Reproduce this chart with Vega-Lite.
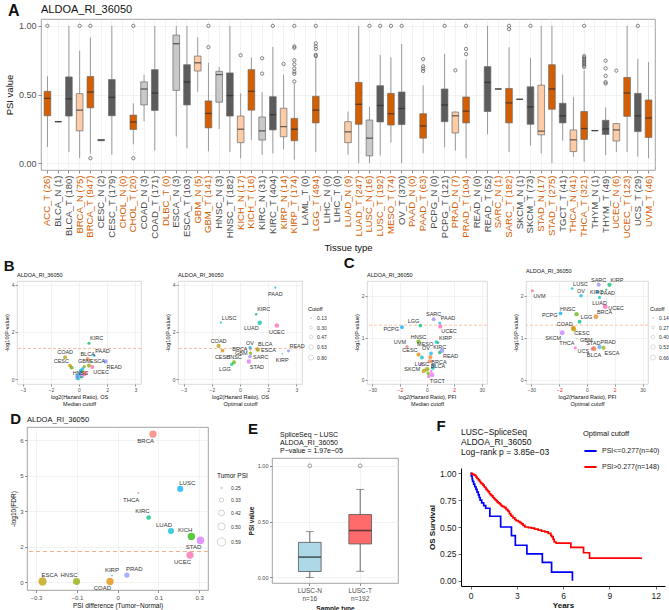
{
"$schema": "https://vega.github.io/schema/vega-lite/v6.json",
"padding": {"left": 3, "top": 2, "right": 0, "bottom": 0},
"background": "white",
"config": {
  "font": "Liberation Sans",
  "view": {"stroke": "#8c8c8c", "strokeWidth": 0.8},
  "axis": {"domain": false, "tickColor": "#444444", "tickSize": 3, "tickWidth": 0.6, "labelColor": "#4d4d4d", "titleColor": "#111111", "titleFontWeight": "normal", "gridColor": "#ebebeb", "gridWidth": 0.6, "labelPadding": 2, "titlePadding": 4},
  "title": {"fontWeight": "normal", "anchor": "start", "color": "#111111"},
  "legend": {"titleFontWeight": "normal", "labelColor": "#333333", "titleColor": "#111111"}
},
"datasets": {
  "boxes": [
    {"label": "ACC_T (26)", "cancer": "ACC", "sample": "T", "lower": 0.118, "q1": 0.345, "median": 0.472, "q3": 0.523, "upper": 0.633},
    {"label": "BLCA_N (1)", "cancer": "BLCA", "sample": "N", "lower": 0.302, "q1": 0.302, "median": 0.302, "q3": 0.302, "upper": 0.302},
    {"label": "BLCA_T (180)", "cancer": "BLCA", "sample": "T", "lower": 0.082, "q1": 0.343, "median": 0.468, "q3": 0.628, "upper": 1.0},
    {"label": "BRCA_N (75)", "cancer": "BRCA", "sample": "N", "lower": 0.036, "q1": 0.235, "median": 0.386, "q3": 0.506, "upper": 0.82},
    {"label": "BRCA_T (947)", "cancer": "BRCA", "sample": "T", "lower": 0.07, "q1": 0.403, "median": 0.518, "q3": 0.631, "upper": 0.916},
    {"label": "CESC_N (2)", "cancer": "CESC", "sample": "N", "lower": 0.163, "q1": 0.163, "median": 0.168, "q3": 0.172, "upper": 0.172},
    {"label": "CESC_T (179)", "cancer": "CESC", "sample": "T", "lower": 0.062, "q1": 0.345, "median": 0.48, "q3": 0.609, "upper": 1.0},
    {"label": "CHOL_T (20)", "cancer": "CHOL", "sample": "T", "lower": 0.137, "q1": 0.245, "median": 0.3, "q3": 0.35, "upper": 0.436},
    {"label": "COAD_N (3)", "cancer": "COAD", "sample": "N", "lower": 0.305, "q1": 0.424, "median": 0.54, "q3": 0.592, "upper": 0.643},
    {"label": "COAD_T (171)", "cancer": "COAD", "sample": "T", "lower": 0.091, "q1": 0.384, "median": 0.511, "q3": 0.681, "upper": 1.0},
    {"label": "ESCA_N (3)", "cancer": "ESCA", "sample": "N", "lower": 0.194, "q1": 0.53, "median": 0.87, "q3": 0.933, "upper": 1.0},
    {"label": "ESCA_T (103)", "cancer": "ESCA", "sample": "T", "lower": 0.108, "q1": 0.424, "median": 0.592, "q3": 0.717, "upper": 1.0},
    {"label": "GBM_N (5)", "cancer": "GBM", "sample": "N", "lower": 0.52, "q1": 0.671, "median": 0.731, "q3": 0.78, "upper": 0.916},
    {"label": "GBM_T (141)", "cancer": "GBM", "sample": "T", "lower": 0.086, "q1": 0.257, "median": 0.362, "q3": 0.453, "upper": 0.731},
    {"label": "HNSC_N (3)", "cancer": "HNSC", "sample": "N", "lower": 0.249, "q1": 0.444, "median": 0.645, "q3": 0.669, "upper": 0.7},
    {"label": "HNSC_T (182)", "cancer": "HNSC", "sample": "T", "lower": 0.082, "q1": 0.343, "median": 0.492, "q3": 0.657, "upper": 1.0},
    {"label": "KICH_N (17)", "cancer": "KICH", "sample": "N", "lower": 0.036, "q1": 0.149, "median": 0.247, "q3": 0.343, "upper": 0.508},
    {"label": "KICH_T (16)", "cancer": "KICH", "sample": "T", "lower": 0.17, "q1": 0.386, "median": 0.523, "q3": 0.681, "upper": 0.77},
    {"label": "KIRC_N (31)", "cancer": "KIRC", "sample": "N", "lower": 0.062, "q1": 0.168, "median": 0.235, "q3": 0.336, "upper": 0.516},
    {"label": "KIRC_T (404)", "cancer": "KIRC", "sample": "T", "lower": 0.07, "q1": 0.242, "median": 0.353, "q3": 0.484, "upper": 0.847},
    {"label": "KIRP_N (14)", "cancer": "KIRP", "sample": "N", "lower": 0.1, "q1": 0.192, "median": 0.266, "q3": 0.4, "upper": 0.645},
    {"label": "KIRP_T (174)", "cancer": "KIRP", "sample": "T", "lower": 0.026, "q1": 0.163, "median": 0.247, "q3": 0.326, "upper": 0.58},
    {"label": "LGG_T (494)", "cancer": "LGG", "sample": "T", "lower": 0.082, "q1": 0.293, "median": 0.386, "q3": 0.487, "upper": 0.772},
    {"label": "LUAD_N (9)", "cancer": "LUAD", "sample": "N", "lower": 0.062, "q1": 0.149, "median": 0.228, "q3": 0.302, "upper": 0.376},
    {"label": "LUAD_T (247)", "cancer": "LUAD", "sample": "T", "lower": 0.0, "q1": 0.283, "median": 0.429, "q3": 0.588, "upper": 1.0},
    {"label": "LUSC_N (16)", "cancer": "LUSC", "sample": "N", "lower": 0.0, "q1": 0.053, "median": 0.182, "q3": 0.314, "upper": 0.41},
    {"label": "LUSC_T (192)", "cancer": "LUSC", "sample": "T", "lower": 0.055, "q1": 0.3, "median": 0.42, "q3": 0.564, "upper": 0.789},
    {"label": "MESO_T (74)", "cancer": "MESO", "sample": "T", "lower": 0.151, "q1": 0.278, "median": 0.36, "q3": 0.508, "upper": 0.77},
    {"label": "OV_T (370)", "cancer": "OV", "sample": "T", "lower": 0.0, "q1": 0.281, "median": 0.398, "q3": 0.518, "upper": 0.868},
    {"label": "PAAD_T (63)", "cancer": "PAAD", "sample": "T", "lower": 0.072, "q1": 0.182, "median": 0.271, "q3": 0.36, "upper": 0.566},
    {"label": "PCPG_T (121)", "cancer": "PCPG", "sample": "T", "lower": 0.115, "q1": 0.302, "median": 0.424, "q3": 0.54, "upper": 0.796},
    {"label": "PRAD_N (7)", "cancer": "PRAD", "sample": "N", "lower": 0.091, "q1": 0.22, "median": 0.345, "q3": 0.372, "upper": 0.376},
    {"label": "PRAD_T (104)", "cancer": "PRAD", "sample": "T", "lower": 0.036, "q1": 0.293, "median": 0.379, "q3": 0.482, "upper": 0.755},
    {"label": "READ_T (52)", "cancer": "READ", "sample": "T", "lower": 0.209, "q1": 0.376, "median": 0.588, "q3": 0.703, "upper": 1.0},
    {"label": "SARC_N (1)", "cancer": "SARC", "sample": "N", "lower": 0.54, "q1": 0.54, "median": 0.54, "q3": 0.54, "upper": 0.54},
    {"label": "SARC_T (182)", "cancer": "SARC", "sample": "T", "lower": 0.082, "q1": 0.293, "median": 0.439, "q3": 0.544, "upper": 0.844},
    {"label": "SKCM_N (1)", "cancer": "SKCM", "sample": "N", "lower": 0.465, "q1": 0.465, "median": 0.465, "q3": 0.465, "upper": 0.465},
    {"label": "SKCM_T (73)", "cancer": "SKCM", "sample": "T", "lower": 0.129, "q1": 0.283, "median": 0.41, "q3": 0.556, "upper": 0.767},
    {"label": "STAD_N (17)", "cancer": "STAD", "sample": "N", "lower": 0.07, "q1": 0.206, "median": 0.233, "q3": 0.568, "upper": 1.0},
    {"label": "STAD_T (275)", "cancer": "STAD", "sample": "T", "lower": 0.0, "q1": 0.393, "median": 0.54, "q3": 0.717, "upper": 1.0},
    {"label": "TGCT_T (41)", "cancer": "TGCT", "sample": "T", "lower": 0.163, "q1": 0.293, "median": 0.345, "q3": 0.436, "upper": 0.645},
    {"label": "THCA_N (41)", "cancer": "THCA", "sample": "N", "lower": 0.046, "q1": 0.084, "median": 0.17, "q3": 0.242, "upper": 0.482},
    {"label": "THCA_T (321)", "cancer": "THCA", "sample": "T", "lower": 0.01, "q1": 0.173, "median": 0.252, "q3": 0.376, "upper": 0.676},
    {"label": "THYM_N (1)", "cancer": "THYM", "sample": "N", "lower": 0.237, "q1": 0.237, "median": 0.237, "q3": 0.237, "upper": 0.237},
    {"label": "THYM_T (49)", "cancer": "THYM", "sample": "T", "lower": 0.058, "q1": 0.209, "median": 0.249, "q3": 0.312, "upper": 0.405},
    {"label": "UCEC_N (6)", "cancer": "UCEC", "sample": "N", "lower": 0.082, "q1": 0.161, "median": 0.242, "q3": 0.288, "upper": 0.29},
    {"label": "UCEC_T (123)", "cancer": "UCEC", "sample": "T", "lower": 0.082, "q1": 0.341, "median": 0.511, "q3": 0.624, "upper": 1.0},
    {"label": "UCS_T (29)", "cancer": "UCS", "sample": "T", "lower": 0.048, "q1": 0.23, "median": 0.345, "q3": 0.508, "upper": 0.76},
    {"label": "UVM_T (46)", "cancer": "UVM", "sample": "T", "lower": 0.036, "q1": 0.187, "median": 0.329, "q3": 0.46, "upper": 0.736}
  ],
  "outA": [
    {"label": "ACC_T (26)", "psi": 1.0},
    {"label": "BRCA_N (75)", "psi": 1.0},
    {"label": "BRCA_T (947)", "psi": 1.0}, {"label": "BRCA_T (947)", "psi": 0.036},
    {"label": "CHOL_T (20)", "psi": 1.0}, {"label": "CHOL_T (20)", "psi": 0.036},
    {"label": "GBM_T (141)", "psi": 1.0}, {"label": "GBM_T (141)", "psi": 0.845},
    {"label": "KICH_N (17)", "psi": 0.786},
    {"label": "KIRC_N (31)", "psi": 0.764}, {"label": "KIRC_N (31)", "psi": 0.652},
    {"label": "KIRC_T (404)", "psi": 1.0},
    {"label": "KIRP_N (14)", "psi": 0.723},
    {"label": "KIRP_T (174)", "psi": 1.0}, {"label": "KIRP_T (174)", "psi": 0.85}, {"label": "KIRP_T (174)", "psi": 0.84}, {"label": "KIRP_T (174)", "psi": 0.75}, {"label": "KIRP_T (174)", "psi": 0.72}, {"label": "KIRP_T (174)", "psi": 0.69}, {"label": "KIRP_T (174)", "psi": 0.665}, {"label": "KIRP_T (174)", "psi": 0.65}, {"label": "KIRP_T (174)", "psi": 0.595},
    {"label": "LGG_T (494)", "psi": 1.0}, {"label": "LGG_T (494)", "psi": 0.873}, {"label": "LGG_T (494)", "psi": 0.851}, {"label": "LGG_T (494)", "psi": 0.832}, {"label": "LGG_T (494)", "psi": 0.789}, {"label": "LGG_T (494)", "psi": 0.78},
    {"label": "LUSC_N (16)", "psi": 1.0},
    {"label": "LUSC_T (192)", "psi": 1.0},
    {"label": "MESO_T (74)", "psi": 1.0},
    {"label": "OV_T (370)", "psi": 1.0},
    {"label": "PAAD_T (63)", "psi": 0.758}, {"label": "PAAD_T (63)", "psi": 0.705}, {"label": "PAAD_T (63)", "psi": 0.688}, {"label": "PAAD_T (63)", "psi": 0.671},
    {"label": "PCPG_T (121)", "psi": 1.0},
    {"label": "PRAD_N (7)", "psi": 0.676},
    {"label": "PRAD_T (104)", "psi": 1.0}, {"label": "PRAD_T (104)", "psi": 0.832}, {"label": "PRAD_T (104)", "psi": 0.794},
    {"label": "SARC_T (182)", "psi": 1.0}, {"label": "SARC_T (182)", "psi": 0.976},
    {"label": "SKCM_T (73)", "psi": 1.0},
    {"label": "THCA_T (321)", "psi": 1.0}, {"label": "THCA_T (321)", "psi": 0.78}, {"label": "THCA_T (321)", "psi": 0.77}, {"label": "THCA_T (321)", "psi": 0.76}, {"label": "THCA_T (321)", "psi": 0.75}, {"label": "THCA_T (321)", "psi": 0.74}, {"label": "THCA_T (321)", "psi": 0.73}, {"label": "THCA_T (321)", "psi": 0.72}, {"label": "THCA_T (321)", "psi": 0.71}, {"label": "THCA_T (321)", "psi": 0.70},
    {"label": "THYM_T (49)", "psi": 0.746}, {"label": "THYM_T (49)", "psi": 0.69}, {"label": "THYM_T (49)", "psi": 0.636}, {"label": "THYM_T (49)", "psi": 0.59}, {"label": "THYM_T (49)", "psi": 0.58},
    {"label": "UCEC_N (6)", "psi": 0.674},
    {"label": "UCS_T (29)", "psi": 1.0}
  ],
  "b1": [
    {"cancer": "KIRC", "hr": 0.53, "p": 1.52, "sz": 0.35},
    {"cancer": "PAAD", "hr": 0.81, "p": 1.0, "sz": 0.27},
    {"cancer": "READ", "hr": 1.41, "p": 0.75, "sz": 0.59},
    {"cancer": "BLCA", "hr": 0.46, "p": 0.86, "sz": 0.47},
    {"cancer": "COAD", "hr": -0.74, "p": 0.93, "sz": 0.51},
    {"cancer": "CESC", "hr": -0.48, "p": 0.58, "sz": 0.48},
    {"cancer": "ESCA", "hr": 0.53, "p": 0.58, "sz": 0.59},
    {"cancer": "GBM", "hr": 0.28, "p": 0.54, "sz": 0.36},
    {"cancer": "HNSC", "hr": -0.39, "p": 0.49, "sz": 0.49},
    {"cancer": "UCEC", "hr": 0.71, "p": 0.52, "sz": 0.51},
    {"cancer": "LUAD", "hr": 0.1, "p": 0.38, "sz": 0.43},
    {"cancer": "OV", "hr": 0.14, "p": 0.33, "sz": 0.4},
    {"cancer": "LGG", "hr": 0.05, "p": 0.22, "sz": 0.39},
    {"cancer": "SKCM", "hr": -0.12, "p": 0.06, "sz": 0.41},
    {"cancer": "SARC", "hr": 0.04, "p": 0.12, "sz": 0.44},
    {"cancer": "STAD", "hr": 0.18, "p": 0.14, "sz": 0.54},
    {"cancer": "THCA", "hr": 0.4, "p": 0.25, "sz": 0.25},
    {"cancer": "LUSC", "hr": -0.05, "p": 0.02, "sz": 0.42},
    {"cancer": "KIRP", "hr": 0.12, "p": 0.08, "sz": 0.25},
    {"cancer": "BRCA", "hr": 0.25, "p": 0.3, "sz": 0.52},
    {"cancer": "PRAD", "hr": 0.05, "p": 0.28, "sz": 0.38},
    {"cancer": "MESO", "hr": 0.2, "p": 0.45, "sz": 0.36},
    {"cancer": "UVM", "hr": 0.32, "p": 0.2, "sz": 0.33},
    {"cancer": "PCPG", "hr": -0.1, "p": 0.15, "sz": 0.42}
  ],
  "b2": [
    {"cancer": "PAAD", "hr": 1.88, "p": 3.87, "sz": 0.2},
    {"cancer": "KIRC", "hr": 0.86, "p": 2.75, "sz": 0.25},
    {"cancer": "LUSC", "hr": -1.02, "p": 2.39, "sz": 0.2},
    {"cancer": "LUAD", "hr": 1.05, "p": 2.39, "sz": 0.63},
    {"cancer": "UCEC", "hr": 1.96, "p": 2.27, "sz": 0.63},
    {"cancer": "COAD", "hr": -1.14, "p": 1.41, "sz": 0.55},
    {"cancer": "CESC", "hr": -0.93, "p": 1.21, "sz": 0.47},
    {"cancer": "BRCA", "hr": 0.56, "p": 1.28, "sz": 0.3},
    {"cancer": "OV", "hr": 0.53, "p": 1.34, "sz": 0.35},
    {"cancer": "BLCA", "hr": 0.91, "p": 1.28, "sz": 0.45},
    {"cancer": "READ", "hr": 2.58, "p": 1.2, "sz": 0.4},
    {"cancer": "ESCA", "hr": 0.96, "p": 1.24, "sz": 0.47},
    {"cancer": "KIRP", "hr": 2.25, "p": 1.08, "sz": 0.13},
    {"cancer": "GBM", "hr": 0.56, "p": 1.1, "sz": 0.4},
    {"cancer": "SARC", "hr": 0.53, "p": 0.96, "sz": 0.45},
    {"cancer": "HNSC", "hr": -0.32, "p": 0.72, "sz": 0.5},
    {"cancer": "LGG", "hr": -0.44, "p": 0.63, "sz": 0.38},
    {"cancer": "STAD", "hr": 0.47, "p": 0.75, "sz": 0.6}
  ],
  "c1": [
    {"cancer": "PCPG", "hr": -1.6, "p": 1.25, "sz": 0.42},
    {"cancer": "LGG", "hr": -0.143, "p": 1.29, "sz": 0.39},
    {"cancer": "SARC", "hr": 0.143, "p": 1.44, "sz": 0.44},
    {"cancer": "PAAD", "hr": 0.38, "p": 1.35, "sz": 0.27},
    {"cancer": "UCEC", "hr": 0.41, "p": 1.27, "sz": 0.51},
    {"cancer": "HNSC", "hr": -0.2, "p": 0.91, "sz": 0.49},
    {"cancer": "UVM", "hr": -0.93, "p": 0.79, "sz": 0.33},
    {"cancer": "MESO", "hr": 0.23, "p": 0.9, "sz": 0.36},
    {"cancer": "KIRP", "hr": 0.3, "p": 0.88, "sz": 0.25},
    {"cancer": "CESC", "hr": -0.2, "p": 0.6, "sz": 0.48},
    {"cancer": "OV", "hr": 0.075, "p": 0.63, "sz": 0.4},
    {"cancer": "KIRC", "hr": 0.38, "p": 0.65, "sz": 0.35},
    {"cancer": "READ", "hr": 0.51, "p": 0.69, "sz": 0.59},
    {"cancer": "LUSC", "hr": -0.1, "p": 0.53, "sz": 0.42},
    {"cancer": "BRCA", "hr": 0.06, "p": 0.54, "sz": 0.52},
    {"cancer": "SKCM", "hr": -0.12, "p": 0.37, "sz": 0.41},
    {"cancer": "BLCA", "hr": 0.05, "p": 0.44, "sz": 0.47},
    {"cancer": "TGCT", "hr": 0.03, "p": 0.08, "sz": 0.35},
    {"cancer": "COAD", "hr": -0.06, "p": 0.21, "sz": 0.51},
    {"cancer": "GBM", "hr": 0.02, "p": 0.15, "sz": 0.36},
    {"cancer": "LUAD", "hr": 0.12, "p": 0.28, "sz": 0.43},
    {"cancer": "STAD", "hr": 0.1, "p": 0.12, "sz": 0.54},
    {"cancer": "THCA", "hr": 0.08, "p": 0.2, "sz": 0.25},
    {"cancer": "PRAD", "hr": 0.15, "p": 0.34, "sz": 0.38},
    {"cancer": "ESCA", "hr": 0.0, "p": 0.25, "sz": 0.59}
  ],
  "c2": [
    {"cancer": "UVM", "hr": -27.3, "p": 2.12, "sz": 0.3},
    {"cancer": "LUSC", "hr": -0.49, "p": 2.17, "sz": 0.25},
    {"cancer": "SARC", "hr": 0.32, "p": 2.26, "sz": 0.45},
    {"cancer": "KIRC", "hr": 0.82, "p": 2.14, "sz": 0.2},
    {"cancer": "KIRP", "hr": 1.17, "p": 2.26, "sz": 0.5},
    {"cancer": "OV", "hr": -0.12, "p": 2.0, "sz": 0.35},
    {"cancer": "PAAD", "hr": 0.27, "p": 2.09, "sz": 0.35},
    {"cancer": "LUAD", "hr": 0.36, "p": 1.96, "sz": 0.3},
    {"cancer": "UCEC", "hr": 0.73, "p": 1.74, "sz": 0.62},
    {"cancer": "HNSC", "hr": -0.27, "p": 1.56, "sz": 0.5},
    {"cancer": "BRCA", "hr": 0.21, "p": 1.5, "sz": 0.62},
    {"cancer": "PCPG", "hr": -1.78, "p": 1.58, "sz": 0.4},
    {"cancer": "LGG", "hr": -0.16, "p": 1.38, "sz": 0.45},
    {"cancer": "COAD", "hr": -0.4, "p": 1.2, "sz": 0.62},
    {"cancer": "SKCM", "hr": -1.5, "p": 1.12, "sz": 0.62},
    {"cancer": "CESC", "hr": -0.42, "p": 1.24, "sz": 0.55},
    {"cancer": "GBM", "hr": -0.25, "p": 0.98, "sz": 0.14},
    {"cancer": "THCA", "hr": -0.32, "p": 0.76, "sz": 0.3},
    {"cancer": "STAD", "hr": 0.13, "p": 0.75, "sz": 0.4},
    {"cancer": "PRAD", "hr": 0.36, "p": 0.78, "sz": 0.5},
    {"cancer": "UCS", "hr": 0.1, "p": 0.73, "sz": 0.35},
    {"cancer": "BLCA", "hr": 0.15, "p": 0.74, "sz": 0.62},
    {"cancer": "ESCA", "hr": 0.6, "p": 0.76, "sz": 0.45}
  ],
  "d": [
    {"cancer": "BRCA", "diff": 0.13, "fdr": 6.27, "tpsi": 0.52},
    {"cancer": "LUSC", "diff": 0.23, "fdr": 3.95, "tpsi": 0.43},
    {"cancer": "THCA", "diff": 0.076, "fdr": 3.78, "tpsi": 0.25},
    {"cancer": "KIRC", "diff": 0.114, "fdr": 2.74, "tpsi": 0.35},
    {"cancer": "LUAD", "diff": 0.196, "fdr": 2.17, "tpsi": 0.43},
    {"cancer": "KICH", "diff": 0.271, "fdr": 1.94, "tpsi": 0.52},
    {"cancer": "STAD", "diff": 0.304, "fdr": 1.77, "tpsi": 0.54},
    {"cancer": "UCEC", "diff": 0.266, "fdr": 1.15, "tpsi": 0.51},
    {"cancer": "PRAD", "diff": 0.034, "fdr": 0.3, "tpsi": 0.38},
    {"cancer": "KIRP", "diff": -0.021, "fdr": 0.28, "tpsi": 0.25},
    {"cancer": "COAD", "diff": -0.028, "fdr": 0.03, "tpsi": 0.51},
    {"cancer": "HNSC", "diff": -0.151, "fdr": 0.03, "tpsi": 0.49},
    {"cancer": "ESCA", "diff": -0.276, "fdr": 0.03, "tpsi": 0.59}
  ],
  "e": [
    {"label": "LUSC-N|n=16", "grp": "N", "lower": 0.0, "q1": 0.053, "median": 0.182, "q3": 0.314, "upper": 0.41},
    {"label": "LUSC-T|n=192", "grp": "T", "lower": 0.055, "q1": 0.3, "median": 0.42, "q3": 0.564, "upper": 0.789}
  ],
  "eout": [
    {"label": "LUSC-N|n=16", "psi": 1.0},
    {"label": "LUSC-T|n=192", "psi": 1.0}
  ],
  "f": [
    {"group": "PSI<=0.277(n=40)", "time": 0, "surv": 1.0},
    {"group": "PSI<=0.277(n=40)", "time": 0.05, "surv": 0.975},
    {"group": "PSI<=0.277(n=40)", "time": 0.1, "surv": 0.95},
    {"group": "PSI<=0.277(n=40)", "time": 0.13, "surv": 0.925},
    {"group": "PSI<=0.277(n=40)", "time": 0.2, "surv": 0.9},
    {"group": "PSI<=0.277(n=40)", "time": 0.27, "surv": 0.875},
    {"group": "PSI<=0.277(n=40)", "time": 0.35, "surv": 0.85},
    {"group": "PSI<=0.277(n=40)", "time": 0.42, "surv": 0.825},
    {"group": "PSI<=0.277(n=40)", "time": 0.5, "surv": 0.8},
    {"group": "PSI<=0.277(n=40)", "time": 0.56, "surv": 0.775},
    {"group": "PSI<=0.277(n=40)", "time": 0.62, "surv": 0.75},
    {"group": "PSI<=0.277(n=40)", "time": 0.72, "surv": 0.725},
    {"group": "PSI<=0.277(n=40)", "time": 0.85, "surv": 0.7},
    {"group": "PSI<=0.277(n=40)", "time": 0.98, "surv": 0.675},
    {"group": "PSI<=0.277(n=40)", "time": 1.25, "surv": 0.6},
    {"group": "PSI<=0.277(n=40)", "time": 1.95, "surv": 0.5},
    {"group": "PSI<=0.277(n=40)", "time": 2.65, "surv": 0.42},
    {"group": "PSI<=0.277(n=40)", "time": 2.9, "surv": 0.33},
    {"group": "PSI<=0.277(n=40)", "time": 3.65, "surv": 0.25},
    {"group": "PSI<=0.277(n=40)", "time": 4.65, "surv": 0.17},
    {"group": "PSI<=0.277(n=40)", "time": 5.25, "surv": 0.08},
    {"group": "PSI<=0.277(n=40)", "time": 6.6, "surv": 0.0},
    {"group": "PSI>0.277(n=148)", "time": 0, "surv": 1.0},
    {"group": "PSI>0.277(n=148)", "time": 0.1, "surv": 0.993},
    {"group": "PSI>0.277(n=148)", "time": 0.2, "surv": 0.986},
    {"group": "PSI>0.277(n=148)", "time": 0.28, "surv": 0.98},
    {"group": "PSI>0.277(n=148)", "time": 0.35, "surv": 0.966},
    {"group": "PSI>0.277(n=148)", "time": 0.42, "surv": 0.952},
    {"group": "PSI>0.277(n=148)", "time": 0.5, "surv": 0.94},
    {"group": "PSI>0.277(n=148)", "time": 0.58, "surv": 0.926},
    {"group": "PSI>0.277(n=148)", "time": 0.65, "surv": 0.912},
    {"group": "PSI>0.277(n=148)", "time": 0.71, "surv": 0.905},
    {"group": "PSI>0.277(n=148)", "time": 0.8, "surv": 0.89},
    {"group": "PSI>0.277(n=148)", "time": 0.88, "surv": 0.875},
    {"group": "PSI>0.277(n=148)", "time": 0.93, "surv": 0.868},
    {"group": "PSI>0.277(n=148)", "time": 1.0, "surv": 0.85},
    {"group": "PSI>0.277(n=148)", "time": 1.08, "surv": 0.84},
    {"group": "PSI>0.277(n=148)", "time": 1.14, "surv": 0.83},
    {"group": "PSI>0.277(n=148)", "time": 1.22, "surv": 0.81},
    {"group": "PSI>0.277(n=148)", "time": 1.3, "surv": 0.8},
    {"group": "PSI>0.277(n=148)", "time": 1.36, "surv": 0.79},
    {"group": "PSI>0.277(n=148)", "time": 1.45, "surv": 0.775},
    {"group": "PSI>0.277(n=148)", "time": 1.52, "surv": 0.765},
    {"group": "PSI>0.277(n=148)", "time": 1.58, "surv": 0.755},
    {"group": "PSI>0.277(n=148)", "time": 1.65, "surv": 0.745},
    {"group": "PSI>0.277(n=148)", "time": 1.72, "surv": 0.735},
    {"group": "PSI>0.277(n=148)", "time": 1.79, "surv": 0.725},
    {"group": "PSI>0.277(n=148)", "time": 1.88, "surv": 0.715},
    {"group": "PSI>0.277(n=148)", "time": 1.95, "surv": 0.705},
    {"group": "PSI>0.277(n=148)", "time": 2.01, "surv": 0.695},
    {"group": "PSI>0.277(n=148)", "time": 2.1, "surv": 0.69},
    {"group": "PSI>0.277(n=148)", "time": 2.2, "surv": 0.68},
    {"group": "PSI>0.277(n=148)", "time": 2.3, "surv": 0.665},
    {"group": "PSI>0.277(n=148)", "time": 2.4, "surv": 0.655},
    {"group": "PSI>0.277(n=148)", "time": 2.44, "surv": 0.645},
    {"group": "PSI>0.277(n=148)", "time": 2.52, "surv": 0.625},
    {"group": "PSI>0.277(n=148)", "time": 2.6, "surv": 0.61},
    {"group": "PSI>0.277(n=148)", "time": 2.66, "surv": 0.6},
    {"group": "PSI>0.277(n=148)", "time": 2.75, "surv": 0.585},
    {"group": "PSI>0.277(n=148)", "time": 2.87, "surv": 0.57},
    {"group": "PSI>0.277(n=148)", "time": 2.95, "surv": 0.56},
    {"group": "PSI>0.277(n=148)", "time": 3.09, "surv": 0.55},
    {"group": "PSI>0.277(n=148)", "time": 3.2, "surv": 0.54},
    {"group": "PSI>0.277(n=148)", "time": 3.3, "surv": 0.53},
    {"group": "PSI>0.277(n=148)", "time": 3.4, "surv": 0.515},
    {"group": "PSI>0.277(n=148)", "time": 3.52, "surv": 0.5},
    {"group": "PSI>0.277(n=148)", "time": 3.75, "surv": 0.495},
    {"group": "PSI>0.277(n=148)", "time": 3.95, "surv": 0.49},
    {"group": "PSI>0.277(n=148)", "time": 4.15, "surv": 0.48},
    {"group": "PSI>0.277(n=148)", "time": 4.38, "surv": 0.47},
    {"group": "PSI>0.277(n=148)", "time": 4.6, "surv": 0.462},
    {"group": "PSI>0.277(n=148)", "time": 4.82, "surv": 0.455},
    {"group": "PSI>0.277(n=148)", "time": 5.03, "surv": 0.44},
    {"group": "PSI>0.277(n=148)", "time": 5.2, "surv": 0.425},
    {"group": "PSI>0.277(n=148)", "time": 5.25, "surv": 0.41},
    {"group": "PSI>0.277(n=148)", "time": 5.35, "surv": 0.385},
    {"group": "PSI>0.277(n=148)", "time": 5.42, "surv": 0.36},
    {"group": "PSI>0.277(n=148)", "time": 5.55, "surv": 0.35},
    {"group": "PSI>0.277(n=148)", "time": 6.5, "surv": 0.31},
    {"group": "PSI>0.277(n=148)", "time": 7.32, "surv": 0.26},
    {"group": "PSI>0.277(n=148)", "time": 7.71, "surv": 0.21},
    {"group": "PSI>0.277(n=148)", "time": 11.1, "surv": 0.21}
  ]
},
"resolve": {"scale": {"color": "independent", "size": "independent", "x": "independent", "y": "independent"}, "legend": {"color": "independent", "size": "independent"}},
"columns": 1,
"spacing": 2,
"align": "none",
"concat": [
  {
    "spacing": -14,
    "align": "none",
    "concat": [
      {"width": 1, "height": 1, "view": {"stroke": null}, "data": {"values": [{}]}, "mark": {"type": "rule", "opacity": 0}, "encoding": {}},
      {
        "title": {"text": "A", "fontSize": 16, "fontWeight": "bold", "anchor": "start", "frame": "bounds", "offset": -15, "dx": 4},
        "columns": 1,
        "align": "none",
        "concat": [
          {
            "width": 614, "height": 151,
            "title": {"text": "ALDOA_RI_36050", "fontSize": 11, "offset": 4, "frame": "group"},
            "layer": [
              {
                "data": {"name": "boxes"},
                "transform": [{"calculate": "(test(regexp('^(ACC|BRCA|CHOL|DLBC|GBM|KICH|KIRP|LGG|LUAD|MESO|PAAD|PRAD|SARC|STAD|THCA|UCEC|UVM)$'), datum.cancer) ? 'O' : 'G') + datum.sample", "as": "ckey"}],
                "layer": [
                  {
                    "mark": {"type": "rule", "color": "#8f8f8f", "strokeWidth": 0.9},
                    "encoding": {
                      "x": {"field": "label", "type": "nominal",
                        "scale": {"domain": ["ACC_T (26)","BLCA_N (1)","BLCA_T (180)","BRCA_N (75)","BRCA_T (947)","CESC_N (2)","CESC_T (179)","CHOL_N (0)","CHOL_T (20)","COAD_N (3)","COAD_T (171)","DLBC_T (0)","ESCA_N (3)","ESCA_T (103)","GBM_N (5)","GBM_T (141)","HNSC_N (3)","HNSC_T (182)","KICH_N (17)","KICH_T (16)","KIRC_N (31)","KIRC_T (404)","KIRP_N (14)","KIRP_T (174)","LAML_T (0)","LGG_T (494)","LIHC_N (0)","LIHC_T (0)","LUAD_N (9)","LUAD_T (247)","LUSC_N (16)","LUSC_T (192)","MESO_T (74)","OV_T (370)","PAAD_N (0)","PAAD_T (63)","PCPG_N (0)","PCPG_T (121)","PRAD_N (7)","PRAD_T (104)","READ_N (0)","READ_T (52)","SARC_N (1)","SARC_T (182)","SKCM_N (1)","SKCM_T (73)","STAD_N (17)","STAD_T (275)","TGCT_T (41)","THCA_N (41)","THCA_T (321)","THYM_N (1)","THYM_T (49)","UCEC_N (6)","UCEC_T (123)","UCS_T (29)","UVM_T (46)"], "paddingInner": 0, "paddingOuter": 0.1},
                        "axis": {"title": "Tissue type", "titleFontSize": 9.5, "labelAngle": -90, "labelFontSize": 9.5, "bandPosition": 0.5, "grid": true, "labelPadding": 2, "titlePadding": 4,
                          "labelColor": {"condition": {"test": "test(regexp('^(ACC|BRCA|CHOL|DLBC|GBM|KICH|KIRP|LGG|LUAD|LUSC|MESO|PAAD|PRAD|SARC|STAD|THCA|UCEC|UVM)_'), datum.value)", "value": "#D55E00"}, "value": "#4d4d4d"}}},
                      "y": {"field": "lower", "type": "quantitative", "scale": {"domain": [-0.05, 1.05], "nice": false, "zero": false},
                        "axis": {"values": [0, 0.25, 0.5, 0.75, 1], "format": ".2f", "title": "PSI value", "labelFontSize": 9, "titleFontSize": 9.5, "grid": true}},
                      "y2": {"field": "upper"}
                    }
                  },
                  {
                    "mark": {"type": "bar", "width": {"band": 0.62}, "stroke": "#6b6b6b", "strokeWidth": 0.7},
                    "encoding": {
                      "x": {"field": "label", "type": "nominal"},
                      "y": {"field": "q1", "type": "quantitative"},
                      "y2": {"field": "q3"},
                      "color": {"field": "ckey", "type": "nominal", "scale": {"domain": ["ON", "OT", "GN", "GT"], "range": ["#FDCBA5", "#D55E00", "#C9C9C9", "#5C5C5C"]}, "legend": null}
                    }
                  },
                  {
                    "mark": {"type": "tick", "size": 6.6, "thickness": 1.3, "color": "#2b2b2b"},
                    "encoding": {
                      "x": {"field": "label", "type": "nominal"},
                      "y": {"field": "median", "type": "quantitative"}
                    }
                  }
                ]
              },
              {
                "data": {"name": "outA"},
                "mark": {"type": "point", "shape": "circle", "filled": false, "size": 11, "color": "#555555", "strokeWidth": 0.7, "opacity": 1},
                "encoding": {
                  "x": {"field": "label", "type": "nominal"},
                  "y": {"field": "psi", "type": "quantitative"}
                }
              }
            ]
          }
        ]
      }
    ]
  },
  {
    "columns": 1,
    "spacing": 4,
    "align": "none",
    "resolve": {"scale": {"color": "independent", "size": "independent", "x": "independent", "y": "independent"}, "legend": {"color": "independent", "size": "independent"}},
    "concat": [
  {
    "align": "none",
    "spacing": 15,
    "resolve": {"scale": {"color": "independent", "size": "independent", "x": "independent", "y": "independent"}, "legend": {"color": "independent", "size": "independent"}},
    "concat": [
      {
        "title": {"text": "B", "fontSize": 15, "fontWeight": "bold", "anchor": "start", "frame": "bounds", "offset": -2, "dx": 0},
        "spacing": 22,
        "align": "none",
        "resolve": {"scale": {"color": "independent", "size": "independent", "x": "independent", "y": "independent"}, "legend": {"color": "independent", "size": "independent"}},
        "concat": [
          {
            "width": 124, "height": 103,
            "view": {"stroke": "#cfcfcf"},
            "title": {"text": "ALDOA_RI_36050", "fontSize": 5.5, "offset": 3, "frame": "group"},
            "data": {"name": "b1"},
            "layer": [
              {"data": {"values": [{"t": 1.3}]}, "mark": {"type": "rule", "color": "#F4A582", "strokeDash": [3, 2], "strokeWidth": 0.7}, "encoding": {"y": {"field": "t", "type": "quantitative"}}},
              {
                "encoding": {
                  "x": {"field": "hr", "type": "quantitative", "scale": {"domain": [-3.3, 3.3], "nice": false, "zero": false}, "axis": {"values": [-3, -1.5, 0, 1.5, 3], "format": "~g", "title": ["log2(Hazard Ratio), OS", "Median cutoff"], "labelFontSize": 5, "titleFontSize": 5.5, "tickSize": 2, "labelPadding": 1, "titlePadding": 2}},
                  "y": {"field": "p", "type": "quantitative", "scale": {"domain": [-0.2, 4.15], "nice": false, "zero": false}, "axis": {"values": [0, 1, 2, 3, 4], "format": "~g", "title": "-log10(P-value)", "labelFontSize": 5, "titleFontSize": 5.5, "tickSize": 2, "labelPadding": 1, "titlePadding": 2}}
                },
                "layer": [
                  {"mark": {"type": "point", "filled": true, "opacity": 0.75}, "encoding": {
                    "color": {"field": "cancer", "type": "nominal", "legend": null, "scale": {"domain": ["ACC","BLCA","BRCA","CESC","CHOL","COAD","DLBC","ESCA","GBM","HNSC","KICH","KIRC","KIRP","LGG","LIHC","LUAD","LUSC","MESO","OV","PAAD","PCPG","PRAD","READ","SARC","SKCM","STAD","TGCT","THCA","THYM","UCEC","UCS","UVM"], "range": ["#F8766D","#EF7F4A","#E88526","#DA8E00","#CD9600","#BB9D00","#AAA300","#93AA00","#7CAE00","#5EB300","#39B600","#00BC51","#00BE67","#00C086","#00C0A0","#00C1B0","#00BFC4","#00BCD8","#00B4EF","#00AEFA","#00A9FF","#58A0FF","#8794FF","#A08AFF","#C77CFF","#DF70F8","#F265E8","#FB61D7","#FF61CC","#FF63B6","#FF6A98","#FA7476"]}},
                    "size": {"field": "sz", "type": "quantitative", "scale": {"domain": [0.13, 0.8], "range": [2, 26]}, "legend": null}}},
                  {"transform": [{"filter": {"field": "cancer", "oneOf": ["KIRC", "PAAD", "ESCA"]}}], "mark": {"type": "text", "fontSize": 5.5, "align": "left", "dx": 1, "dy": -5, "color": "#333333"}, "encoding": {"text": {"field": "cancer"}}},
                  {"transform": [{"filter": {"field": "cancer", "oneOf": ["BLCA", "COAD", "GBM"]}}], "mark": {"type": "text", "fontSize": 5.5, "align": "center", "dy": -5, "color": "#333333"}, "encoding": {"text": {"field": "cancer"}}},
                  {"transform": [{"filter": {"field": "cancer", "oneOf": ["CESC"]}}], "mark": {"type": "text", "fontSize": 5.5, "align": "right", "dx": -1, "dy": -5, "color": "#333333"}, "encoding": {"text": {"field": "cancer"}}},
                  {"transform": [{"filter": {"field": "cancer", "oneOf": ["READ", "UCEC", "HNSC"]}}], "mark": {"type": "text", "fontSize": 5.5, "align": "left", "dx": 1, "dy": 5, "color": "#333333"}, "encoding": {"text": {"field": "cancer"}}}
                ]
              }
            ]
          },
          {
            "width": 124, "height": 103,
            "view": {"stroke": "#cfcfcf"},
            "title": {"text": "ALDOA_RI_36050", "fontSize": 5.5, "offset": 3, "frame": "group"},
            "data": {"name": "b2"},
            "layer": [
              {"data": {"values": [{"t": 1.3}]}, "mark": {"type": "rule", "color": "#F4A582", "strokeDash": [3, 2], "strokeWidth": 0.7}, "encoding": {"y": {"field": "t", "type": "quantitative"}}},
              {
                "encoding": {
                  "x": {"field": "hr", "type": "quantitative", "scale": {"domain": [-3.3, 3.3], "nice": false, "zero": false}, "axis": {"values": [-3, -1.5, 0, 1.5, 3], "format": "~g", "title": ["log2(Hazard Ratio), OS", "Optimal cutoff"], "labelFontSize": 5, "titleFontSize": 5.5, "tickSize": 2, "labelPadding": 1, "titlePadding": 2}},
                  "y": {"field": "p", "type": "quantitative", "scale": {"domain": [-0.2, 4.15], "nice": false, "zero": false}, "axis": {"values": [0, 1, 2, 3, 4], "format": "~g", "title": "-log10(P-value)", "labelFontSize": 5, "titleFontSize": 5.5, "tickSize": 2, "labelPadding": 1, "titlePadding": 2}}
                },
                "layer": [
                  {"mark": {"type": "point", "filled": true, "opacity": 0.75}, "encoding": {
                    "color": {"field": "cancer", "type": "nominal", "legend": null, "scale": {"domain": ["ACC","BLCA","BRCA","CESC","CHOL","COAD","DLBC","ESCA","GBM","HNSC","KICH","KIRC","KIRP","LGG","LIHC","LUAD","LUSC","MESO","OV","PAAD","PCPG","PRAD","READ","SARC","SKCM","STAD","TGCT","THCA","THYM","UCEC","UCS","UVM"], "range": ["#F8766D","#EF7F4A","#E88526","#DA8E00","#CD9600","#BB9D00","#AAA300","#93AA00","#7CAE00","#5EB300","#39B600","#00BC51","#00BE67","#00C086","#00C0A0","#00C1B0","#00BFC4","#00BCD8","#00B4EF","#00AEFA","#00A9FF","#58A0FF","#8794FF","#A08AFF","#C77CFF","#DF70F8","#F265E8","#FB61D7","#FF61CC","#FF63B6","#FF6A98","#FA7476"]}},
                    "size": {"field": "sz", "type": "quantitative", "scale": {"domain": [0.13, 0.8], "range": [2, 26]},
                      "legend": {"title": "Cutoff", "values": [0.13, 0.3, 0.47, 0.63, 0.8], "format": ".2f", "orient": "none", "legendX": 130, "legendY": 26, "titleFontSize": 5.5, "labelFontSize": 5, "symbolFillColor": "#ffffff", "symbolStrokeColor": "#b5b5b5", "symbolStrokeWidth": 0.6, "rowPadding": 2.5, "titlePadding": 3, "labelOffset": 3}}}},
                  {"transform": [{"filter": {"field": "cancer", "oneOf": ["PAAD", "UCEC", "CESC", "KIRP"]}}], "mark": {"type": "text", "fontSize": 5.5, "align": "center", "dy": 6, "color": "#333333"}, "encoding": {"text": {"field": "cancer"}}},
                  {"transform": [{"filter": {"field": "cancer", "oneOf": ["KIRC", "LUSC", "BLCA", "READ"]}}], "mark": {"type": "text", "fontSize": 5.5, "align": "left", "dx": 1, "dy": -5, "color": "#333333"}, "encoding": {"text": {"field": "cancer"}}},
                  {"transform": [{"filter": {"field": "cancer", "oneOf": ["LUAD", "LGG"]}}], "mark": {"type": "text", "fontSize": 5.5, "align": "right", "dx": -1, "dy": 5, "color": "#333333"}, "encoding": {"text": {"field": "cancer"}}},
                  {"transform": [{"filter": {"field": "cancer", "oneOf": ["COAD", "OV", "HNSC"]}}], "mark": {"type": "text", "fontSize": 5.5, "align": "center", "dy": -5, "color": "#333333"}, "encoding": {"text": {"field": "cancer"}}},
                  {"transform": [{"filter": {"field": "cancer", "oneOf": ["BRCA", "GBM"]}}], "mark": {"type": "text", "fontSize": 5.5, "align": "right", "dx": -3, "color": "#333333"}, "encoding": {"text": {"field": "cancer"}}},
                  {"transform": [{"filter": {"field": "cancer", "oneOf": ["ESCA", "SARC"]}}], "mark": {"type": "text", "fontSize": 5.5, "align": "left", "dx": 3, "color": "#333333"}, "encoding": {"text": {"field": "cancer"}}},
                  {"transform": [{"filter": {"field": "cancer", "oneOf": ["STAD"]}}], "mark": {"type": "text", "fontSize": 5.5, "align": "left", "dx": 1, "dy": 5, "color": "#333333"}, "encoding": {"text": {"field": "cancer"}}}
                ]
              }
            ]
          }
        ]
      },
      {
        "title": {"text": "C", "fontSize": 15, "fontWeight": "bold", "anchor": "start", "frame": "bounds", "offset": -2, "dx": -10},
        "spacing": 24,
        "align": "none",
        "resolve": {"scale": {"color": "independent", "size": "independent", "x": "independent", "y": "independent"}, "legend": {"color": "independent", "size": "independent"}},
        "concat": [
          {
            "width": 120, "height": 103,
            "view": {"stroke": "#cfcfcf"},
            "title": {"text": "ALDOA_RI_36050", "fontSize": 5.5, "offset": 3, "frame": "group"},
            "data": {"name": "c1"},
            "layer": [
              {"data": {"values": [{"t": 1.3}]}, "mark": {"type": "rule", "color": "#F4A582", "strokeDash": [3, 2], "strokeWidth": 0.7}, "encoding": {"y": {"field": "t", "type": "quantitative"}}},
              {
                "encoding": {
                  "x": {"field": "hr", "type": "quantitative", "scale": {"type": "symlog", "constant": 0.16, "domain": [-50, 50], "nice": false}, "axis": {"values": [-30, -2, 0, 2, 30], "format": "d", "title": ["log2(Hazard Ratio), PFI", "Median cutoff"], "labelFontSize": 5, "titleFontSize": 5.5, "tickSize": 2, "labelPadding": 1, "titlePadding": 2, "labelColor": {"condition": {"test": "abs(datum.value) == 2", "value": "#E41A1C"}, "value": "#4d4d4d"}}},
                  "y": {"field": "p", "type": "quantitative", "scale": {"domain": [-0.1, 2.35], "nice": false, "zero": false}, "axis": {"values": [0, 0.5, 1, 1.5, 2], "format": "~g", "title": "-log10(P-value)", "labelFontSize": 5, "titleFontSize": 5.5, "tickSize": 2, "labelPadding": 1, "titlePadding": 2}}
                },
                "layer": [
                  {"mark": {"type": "point", "filled": true, "opacity": 0.75}, "encoding": {
                    "color": {"field": "cancer", "type": "nominal", "legend": null, "scale": {"domain": ["ACC","BLCA","BRCA","CESC","CHOL","COAD","DLBC","ESCA","GBM","HNSC","KICH","KIRC","KIRP","LGG","LIHC","LUAD","LUSC","MESO","OV","PAAD","PCPG","PRAD","READ","SARC","SKCM","STAD","TGCT","THCA","THYM","UCEC","UCS","UVM"], "range": ["#F8766D","#EF7F4A","#E88526","#DA8E00","#CD9600","#BB9D00","#AAA300","#93AA00","#7CAE00","#5EB300","#39B600","#00BC51","#00BE67","#00C086","#00C0A0","#00C1B0","#00BFC4","#00BCD8","#00B4EF","#00AEFA","#00A9FF","#58A0FF","#8794FF","#A08AFF","#C77CFF","#DF70F8","#F265E8","#FB61D7","#FF61CC","#FF63B6","#FF6A98","#FA7476"]}},
                    "size": {"field": "sz", "type": "quantitative", "scale": {"domain": [0.14, 0.66], "range": [2, 26]}, "legend": null}}},
                  {"transform": [{"filter": {"field": "cancer", "oneOf": ["PCPG", "MESO"]}}], "mark": {"type": "text", "fontSize": 5.5, "align": "right", "dx": -3, "dy": 2, "color": "#333333"}, "encoding": {"text": {"field": "cancer"}}},
                  {"transform": [{"filter": {"field": "cancer", "oneOf": ["LGG", "UVM", "CESC", "OV"]}}], "mark": {"type": "text", "fontSize": 5.5, "align": "right", "dx": -1, "dy": -5, "color": "#333333"}, "encoding": {"text": {"field": "cancer"}}},
                  {"transform": [{"filter": {"field": "cancer", "oneOf": ["SARC", "HNSC", "KIRC"]}}], "mark": {"type": "text", "fontSize": 5.5, "align": "center", "dy": -5, "color": "#333333"}, "encoding": {"text": {"field": "cancer"}}},
                  {"transform": [{"filter": {"field": "cancer", "oneOf": ["PAAD", "KIRP"]}}], "mark": {"type": "text", "fontSize": 5.5, "align": "left", "dx": 1, "dy": -5, "color": "#333333"}, "encoding": {"text": {"field": "cancer"}}},
                  {"transform": [{"filter": {"field": "cancer", "oneOf": ["UCEC", "READ", "BRCA", "BLCA", "TGCT"]}}], "mark": {"type": "text", "fontSize": 5.5, "align": "left", "dx": 1, "dy": 5, "color": "#333333"}, "encoding": {"text": {"field": "cancer"}}},
                  {"transform": [{"filter": {"field": "cancer", "oneOf": ["LUSC"]}}], "mark": {"type": "text", "fontSize": 5.5, "align": "center", "dy": 6, "color": "#333333"}, "encoding": {"text": {"field": "cancer"}}},
                  {"transform": [{"filter": {"field": "cancer", "oneOf": ["SKCM"]}}], "mark": {"type": "text", "fontSize": 5.5, "align": "right", "dx": -1, "dy": 5, "color": "#333333"}, "encoding": {"text": {"field": "cancer"}}}
                ]
              }
            ]
          },
          {
            "width": 122, "height": 103,
            "view": {"stroke": "#cfcfcf"},
            "title": {"text": "ALDOA_RI_36050", "fontSize": 5.5, "offset": 3, "frame": "group"},
            "data": {"name": "c2"},
            "layer": [
              {"data": {"values": [{"t": 1.3}]}, "mark": {"type": "rule", "color": "#F4A582", "strokeDash": [3, 2], "strokeWidth": 0.7}, "encoding": {"y": {"field": "t", "type": "quantitative"}}},
              {
                "encoding": {
                  "x": {"field": "hr", "type": "quantitative", "scale": {"type": "symlog", "constant": 0.16, "domain": [-50, 50], "nice": false}, "axis": {"values": [-30, -2, 0, 2, 30], "format": "d", "title": ["log2(Hazard Ratio), PFI", "Optimal cutoff"], "labelFontSize": 5, "titleFontSize": 5.5, "tickSize": 2, "labelPadding": 1, "titlePadding": 2, "labelColor": {"condition": {"test": "abs(datum.value) == 2", "value": "#E41A1C"}, "value": "#4d4d4d"}}},
                  "y": {"field": "p", "type": "quantitative", "scale": {"domain": [-0.1, 2.35], "nice": false, "zero": false}, "axis": {"values": [0, 0.5, 1, 1.5, 2], "format": "~g", "title": "-log10(P-value)", "labelFontSize": 5, "titleFontSize": 5.5, "tickSize": 2, "labelPadding": 1, "titlePadding": 2}}
                },
                "layer": [
                  {"mark": {"type": "point", "filled": true, "opacity": 0.75}, "encoding": {
                    "color": {"field": "cancer", "type": "nominal", "legend": null, "scale": {"domain": ["ACC","BLCA","BRCA","CESC","CHOL","COAD","DLBC","ESCA","GBM","HNSC","KICH","KIRC","KIRP","LGG","LIHC","LUAD","LUSC","MESO","OV","PAAD","PCPG","PRAD","READ","SARC","SKCM","STAD","TGCT","THCA","THYM","UCEC","UCS","UVM"], "range": ["#F8766D","#EF7F4A","#E88526","#DA8E00","#CD9600","#BB9D00","#AAA300","#93AA00","#7CAE00","#5EB300","#39B600","#00BC51","#00BE67","#00C086","#00C0A0","#00C1B0","#00BFC4","#00BCD8","#00B4EF","#00AEFA","#00A9FF","#58A0FF","#8794FF","#A08AFF","#C77CFF","#DF70F8","#F265E8","#FB61D7","#FF61CC","#FF63B6","#FF6A98","#FA7476"]}},
                    "size": {"field": "sz", "type": "quantitative", "scale": {"domain": [0.14, 0.66], "range": [2, 26]},
                      "legend": {"title": "Cutoff", "values": [0.14, 0.27, 0.4, 0.53, 0.66], "format": ".2f", "orient": "none", "legendX": 124, "legendY": 26, "titleFontSize": 5.5, "labelFontSize": 5, "symbolFillColor": "#ffffff", "symbolStrokeColor": "#b5b5b5", "symbolStrokeWidth": 0.6, "rowPadding": 2.5, "titlePadding": 3, "labelOffset": 3}}}},
                  {"transform": [{"filter": {"field": "cancer", "oneOf": ["UVM", "CESC", "ESCA"]}}], "mark": {"type": "text", "fontSize": 5.5, "align": "left", "dx": 1, "dy": 5, "color": "#333333"}, "encoding": {"text": {"field": "cancer"}}},
                  {"transform": [{"filter": {"field": "cancer", "oneOf": ["LUSC", "KIRP", "BRCA", "LGG", "PRAD"]}}], "mark": {"type": "text", "fontSize": 5.5, "align": "left", "dx": 1, "dy": -5, "color": "#333333"}, "encoding": {"text": {"field": "cancer"}}},
                  {"transform": [{"filter": {"field": "cancer", "oneOf": ["SARC", "OV", "STAD"]}}], "mark": {"type": "text", "fontSize": 5.5, "align": "center", "dy": -5, "color": "#333333"}, "encoding": {"text": {"field": "cancer"}}},
                  {"transform": [{"filter": {"field": "cancer", "oneOf": ["KIRC", "PCPG", "UCS"]}}], "mark": {"type": "text", "fontSize": 5.5, "align": "right", "dx": -3, "dy": 2, "color": "#333333"}, "encoding": {"text": {"field": "cancer"}}},
                  {"transform": [{"filter": {"field": "cancer", "oneOf": ["PAAD", "UCEC", "GBM"]}}], "mark": {"type": "text", "fontSize": 5.5, "align": "left", "dx": 3, "dy": 1, "color": "#333333"}, "encoding": {"text": {"field": "cancer"}}},
                  {"transform": [{"filter": {"field": "cancer", "oneOf": ["LUAD", "BLCA"]}}], "mark": {"type": "text", "fontSize": 5.5, "align": "center", "dy": 6, "color": "#333333"}, "encoding": {"text": {"field": "cancer"}}},
                  {"transform": [{"filter": {"field": "cancer", "oneOf": ["HNSC", "COAD", "THCA"]}}], "mark": {"type": "text", "fontSize": 5.5, "align": "right", "dx": -1, "dy": -5, "color": "#333333"}, "encoding": {"text": {"field": "cancer"}}},
                  {"transform": [{"filter": {"field": "cancer", "oneOf": ["SKCM"]}}], "mark": {"type": "text", "fontSize": 5.5, "align": "right", "dx": -1, "dy": 5, "color": "#333333"}, "encoding": {"text": {"field": "cancer"}}}
                ]
              }
            ]
          }
        ]
      }
    ]
  },
  {
    "align": "none",
    "spacing": -1,
    "resolve": {"scale": {"color": "independent", "size": "independent", "x": "independent", "y": "independent"}, "legend": {"color": "independent", "size": "independent"}},
    "concat": [
      {
        "align": "none",
        "spacing": -8,
        "resolve": {"scale": {"color": "independent", "size": "independent", "x": "independent", "y": "independent"}, "legend": {"color": "independent", "size": "independent"}},
        "concat": [
          {"width": 1, "height": 1, "view": {"stroke": null}, "data": {"values": [{}]}, "mark": {"type": "rule", "opacity": 0}, "encoding": {}},
          {
            "title": {"text": "D", "fontSize": 15, "fontWeight": "bold", "anchor": "start", "frame": "bounds", "offset": -12, "dx": 0},
            "columns": 1,
            "align": "none",
            "concat": [
              {
                "width": 181, "height": 163,
                "title": {"text": "ALDOA_RI_36050", "fontSize": 7.5, "offset": 4, "frame": "group"},
                "data": {"name": "d"},
                "layer": [
                  {"data": {"values": [{"t": 1.3}]}, "mark": {"type": "rule", "color": "#F4A582", "strokeDash": [4, 3], "strokeWidth": 0.9}, "encoding": {"y": {"field": "t", "type": "quantitative"}}},
                  {
                    "encoding": {
                      "x": {"field": "diff", "type": "quantitative", "scale": {"domain": [-0.333, 0.332], "nice": false, "zero": false}, "axis": {"values": [-0.3, -0.15, 0, 0.15, 0.3], "format": "~g", "title": "PSI difference (Tumor−Normal)", "labelFontSize": 6, "titleFontSize": 6.5, "tickSize": 2.5, "labelPadding": 1.5, "titlePadding": 2}},
                      "y": {"field": "fdr", "type": "quantitative", "scale": {"domain": [-0.33, 6.57], "nice": false, "zero": false}, "axis": {"values": [0, 1.5, 3, 4.5, 6], "format": "~g", "title": "-log10(FDR)", "labelFontSize": 6, "titleFontSize": 6.5, "tickSize": 2.5, "labelPadding": 1.5, "titlePadding": 3}}
                    },
                    "layer": [
                      {"mark": {"type": "point", "filled": true, "opacity": 0.75}, "encoding": {
                        "color": {"field": "cancer", "type": "nominal", "legend": null, "scale": {"domain": ["BRCA","COAD","ESCA","HNSC","KICH","KIRC","KIRP","LUAD","LUSC","PRAD","STAD","THCA","UCEC"], "range": ["#F8766D","#E18A00","#BE9C00","#8CAB00","#24B700","#00BE70","#00C1AB","#00BBDA","#00ACFC","#8B93FF","#D575FE","#F962DD","#FF65AC"]}},
                        "size": {"field": "tpsi", "type": "quantitative", "scale": {"domain": [0.25, 0.59], "range": [3, 68]},
                          "legend": {"title": "Tumor PSI", "values": [0.25, 0.33, 0.42, 0.5, 0.59], "format": ".2f", "orient": "none", "legendX": 190, "legendY": 46, "titleFontSize": 6.5, "labelFontSize": 5, "symbolFillColor": "#ffffff", "symbolStrokeColor": "#aaaaaa", "symbolStrokeWidth": 0.7, "rowPadding": 4, "titlePadding": 6, "labelOffset": 5}}}},
                      {"transform": [{"filter": {"field": "cancer", "oneOf": ["BRCA", "THCA", "STAD", "UCEC", "COAD"]}}], "mark": {"type": "text", "fontSize": 6, "align": "right", "dx": 1, "dy": 7, "color": "#333333"}, "encoding": {"text": {"field": "cancer"}}},
                      {"transform": [{"filter": {"field": "cancer", "oneOf": ["LUSC", "PRAD", "ESCA"]}}], "mark": {"type": "text", "fontSize": 6, "align": "left", "dx": -1, "dy": -6, "color": "#333333"}, "encoding": {"text": {"field": "cancer"}}},
                      {"transform": [{"filter": {"field": "cancer", "oneOf": ["KIRC", "LUAD", "KICH", "HNSC"]}}], "mark": {"type": "text", "fontSize": 6, "align": "right", "dx": 1, "dy": -6, "color": "#333333"}, "encoding": {"text": {"field": "cancer"}}},
                      {"transform": [{"filter": {"field": "cancer", "oneOf": ["KIRP"]}}], "mark": {"type": "text", "fontSize": 6, "align": "center", "dy": -6, "color": "#333333"}, "encoding": {"text": {"field": "cancer"}}}
                    ]
                  }
                ]
              }
            ]
          }
        ]
      },
      {
        "align": "none",
        "spacing": 29,
        "resolve": {"scale": {"color": "independent", "size": "independent", "x": "independent", "y": "independent"}, "legend": {"color": "independent", "size": "independent"}},
        "concat": [
          {
            "columns": 1,
            "align": "none",
            "spacing": -7,
            "resolve": {"scale": {"color": "independent", "size": "independent", "x": "independent", "y": "independent"}, "legend": {"color": "independent", "size": "independent"}},
            "concat": [
              {"width": 1, "height": 1, "view": {"stroke": null}, "data": {"values": [{}]}, "mark": {"type": "rule", "opacity": 0}, "encoding": {}},
              {
                "title": {"text": "E", "fontSize": 15, "fontWeight": "bold", "anchor": "start", "frame": "bounds", "offset": 2, "dy": 8},
                "columns": 1,
                "align": "none",
                "concat": [
                  {
                    "width": 126, "height": 125,
                    "title": {"text": ["SpliceSeq − LUSC", "ALDOA_RI_36050", "P−value = 1.97e−05"], "fontSize": 7, "lineHeight": 8, "offset": 4, "dx": 8, "frame": "group"},
                    "layer": [
                      {
                        "data": {"name": "e"},
                        "layer": [
                          {"mark": {"type": "rule", "color": "#444444", "strokeWidth": 0.8},
                           "encoding": {
                             "x": {"field": "label", "type": "nominal", "scale": {"paddingInner": 0, "paddingOuter": 0.25}, "axis": {"labelExpr": "split(datum.value, '|')", "labelAngle": 0, "title": "Sample type", "titleFontWeight": "bold", "labelFontSize": 6.5, "titleFontSize": 6.5, "bandPosition": 0.5, "grid": true, "tickSize": 2.5, "labelPadding": 1.5, "titlePadding": 3}},
                             "y": {"field": "lower", "type": "quantitative", "scale": {"domain": [-0.05, 1.07], "nice": false, "zero": false}, "axis": {"values": [0, 0.25, 0.5, 0.75, 1], "format": ".2f", "title": "PSI value", "titleFontWeight": "bold", "labelFontSize": 5.5, "titleFontSize": 6.5, "tickSize": 2.5, "labelPadding": 1.5, "titlePadding": 3}},
                             "y2": {"field": "upper"}}},
                          {"mark": {"type": "tick", "size": 8, "thickness": 0.8, "color": "#444444"},
                           "encoding": {"x": {"field": "label", "type": "nominal"}, "y": {"field": "upper", "type": "quantitative"}}},
                          {"mark": {"type": "tick", "size": 8, "thickness": 0.8, "color": "#444444"},
                           "encoding": {"x": {"field": "label", "type": "nominal"}, "y": {"field": "lower", "type": "quantitative"}}},
                          {"mark": {"type": "bar", "width": {"band": 0.45}, "stroke": "#555555", "strokeWidth": 0.8},
                           "encoding": {"x": {"field": "label", "type": "nominal"}, "y": {"field": "q1", "type": "quantitative"}, "y2": {"field": "q3"},
                             "color": {"field": "grp", "type": "nominal", "scale": {"domain": ["N", "T"], "range": ["#ADD8E6", "#FF6B6B"]}, "legend": null}}},
                          {"mark": {"type": "tick", "size": 22.5, "thickness": 1.6, "color": "#222222"},
                           "encoding": {"x": {"field": "label", "type": "nominal"}, "y": {"field": "median", "type": "quantitative"}}}
                        ]
                      },
                      {
                        "data": {"name": "eout"},
                        "mark": {"type": "point", "shape": "circle", "filled": false, "size": 14, "color": "#444444", "strokeWidth": 0.7},
                        "encoding": {"x": {"field": "label", "type": "nominal"}, "y": {"field": "psi", "type": "quantitative"}}
                      }
                    ]
                  }
                ]
              }
            ]
          },
          {
            "columns": 1,
            "align": "none",
            "spacing": -10,
            "resolve": {"scale": {"color": "independent", "size": "independent", "x": "independent", "y": "independent"}, "legend": {"color": "independent", "size": "independent"}},
            "concat": [
              {"width": 1, "height": 1, "view": {"stroke": null}, "data": {"values": [{}]}, "mark": {"type": "rule", "opacity": 0}, "encoding": {}},
              {
                "title": {"text": "F", "fontSize": 15, "fontWeight": "bold", "anchor": "start", "frame": "bounds", "offset": 0, "dy": 6, "dx": 8},
                "columns": 1,
                "align": "none",
                "concat": [
                  {
                    "width": 204, "height": 118,
                    "view": {"stroke": null},
                    "title": {"text": ["LUSC−SpliceSeq", "ALDOA_RI_36050", "Log−rank p = 3.85e−03"], "fontSize": 8.5, "lineHeight": 10, "offset": 12, "frame": "group"},
                    "data": {"name": "f"},
                    "mark": {"type": "line", "interpolate": "step-after", "strokeWidth": 1.7},
                    "encoding": {
                      "x": {"field": "time", "type": "quantitative", "scale": {"domain": [-0.62, 12.6], "nice": false, "zero": false}, "axis": {"values": [0, 3, 6, 9, 12], "title": "Years", "titleFontWeight": "bold", "labelFontSize": 8.5, "titleFontSize": 8, "grid": false, "domain": true, "domainColor": "#000000", "tickColor": "#000000", "labelColor": "#222222", "tickSize": 3, "titlePadding": 2}},
                      "y": {"field": "surv", "type": "quantitative", "scale": {"domain": [-0.05, 1.05], "nice": false, "zero": false}, "axis": {"values": [0, 0.25, 0.5, 0.75, 1], "format": ".2f", "title": "OS Survival", "titleFontWeight": "bold", "labelFontSize": 8.5, "titleFontSize": 8, "grid": false, "domain": true, "domainColor": "#000000", "tickColor": "#000000", "labelColor": "#222222", "tickSize": 3, "titlePadding": 3}},
                      "color": {"field": "group", "type": "nominal", "scale": {"domain": ["PSI<=0.277(n=40)", "PSI>0.277(n=148)"], "range": ["#0000FF", "#FF0000"]},
                        "legend": {"title": "Optimal cutoff", "orient": "none", "legendX": 122, "legendY": -38, "titleFontSize": 7.5, "labelFontSize": 7, "symbolType": "stroke", "symbolStrokeWidth": 2, "symbolSize": 150, "rowPadding": 4, "titlePadding": 6, "labelColor": "#222222"}}
                    }
                  }
                ]
              }
            ]
          }
        ]
      }
    ]
  }
    ]
  }
]
}
